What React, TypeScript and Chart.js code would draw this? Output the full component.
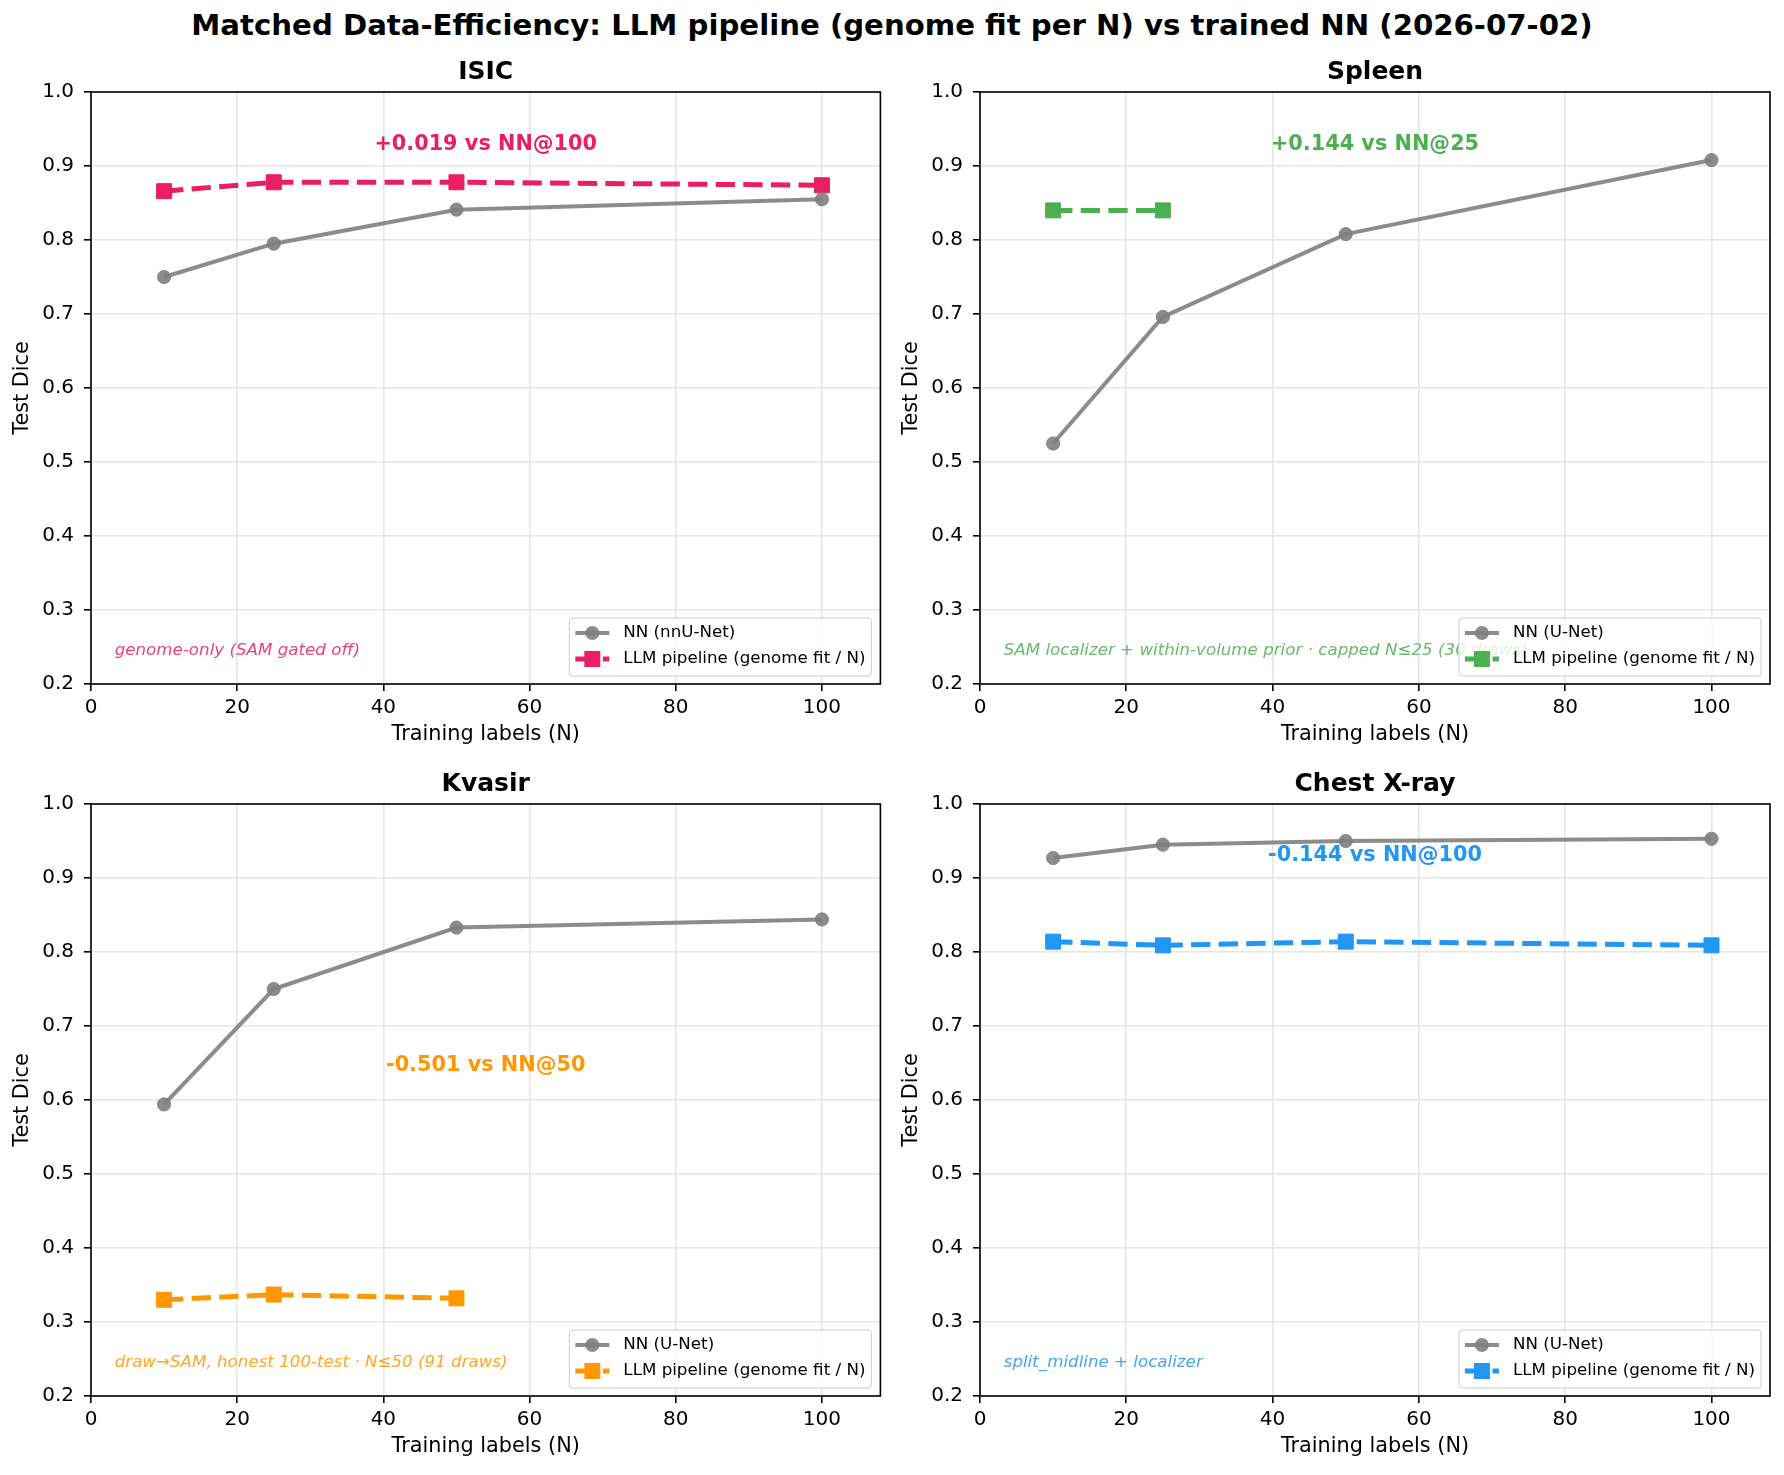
import React, { useEffect, useRef } from 'react';
import Chart from 'chart.js/auto';

// ---------------- data ----------------
const FIG_TITLE = 'Matched Data-Efficiency: LLM pipeline (genome fit per N) vs trained NN (2026-07-02)';
const trainingN = [10, 25, 50, 100];
const xTicks = [0, 20, 40, 60, 80, 100];
const yTicks = [0.2, 0.3, 0.4, 0.5, 0.6, 0.7, 0.8, 0.9, 1.0];

const panelTitles = ['ISIC', 'Spleen', 'Kvasir', 'Chest X-ray'];

const isicNN = [0.750, 0.795, 0.841, 0.855];
const isicLLM = [0.866, 0.878, 0.878, 0.874];
const spleenNN = [0.525, 0.696, 0.808, 0.908];
const spleenLLM = [0.840, 0.840];
const kvasirNN = [0.594, 0.750, 0.833, 0.844];
const kvasirLLM = [0.330, 0.337, 0.332];
const chestNN = [0.927, 0.945, 0.950, 0.953];
const chestLLM = [0.814, 0.809, 0.814, 0.809];

const nnSeries = [isicNN, spleenNN, kvasirNN, chestNN];
const llmSeries = [isicLLM, spleenLLM, kvasirLLM, chestLLM];

const nnLabels = ['NN (nnU-Net)', 'NN (U-Net)', 'NN (U-Net)', 'NN (U-Net)'];
const llmLabel = 'LLM pipeline (genome fit / N)';
const gapTexts = ['+0.019 vs NN@100', '+0.144 vs NN@25', '-0.501 vs NN@50', '-0.144 vs NN@100'];
const gapY = [0.929, 0.929, 0.647, 0.930];
const gapX = 54;
const noteTexts = [
  'genome-only (SAM gated off)',
  'SAM localizer + within-volume prior · capped N≤25 (30 draws)',
  'draw→SAM, honest 100-test · N≤50 (91 draws)',
  'split_midline + localizer',
];
const noteX = 3.24;
const llmColors = ['#E91E63', '#4CAF50', '#FF9800', '#2196F3'];
const nnColor = 'rgba(128,128,128,0.9)';

const FONT = '"DejaVu Sans", "Liberation Sans", sans-serif';

// layout of the four panels (canvas boxes)
const panelBoxes = [
  { left: 0, top: 40, width: 892, height: 720, padRight: 11 },
  { left: 889, top: 40, width: 895, height: 720, padRight: 14 },
  { left: 0, top: 752, width: 892, height: 720, padRight: 11 },
  { left: 889, top: 752, width: 895, height: 720, padRight: 14 },
];

function withAlpha(hex: string, a: number) {
  const r = parseInt(hex.slice(1, 3), 16);
  const g = parseInt(hex.slice(3, 5), 16);
  const b = parseInt(hex.slice(5, 7), 16);
  return `rgba(${r},${g},${b},${a})`;
}

function makeDecor(idx: number) {
  const color = llmColors[idx];
  return {
    id: 'decor' + idx,
    afterDraw(chart: any) {
      const { ctx, chartArea: a, scales } = chart;
      const x = scales.x;
      const y = scales.y;
      ctx.save();
      // footnote
      ctx.font = `italic 16.7px ${FONT}`;
      ctx.fillStyle = withAlpha(color, 0.85);
      ctx.textAlign = 'left';
      ctx.textBaseline = 'middle';
      ctx.fillText(noteTexts[idx], x.getPixelForValue(noteX), a.bottom - 33);
      // gap annotation
      ctx.font = `bold 20.8px ${FONT}`;
      ctx.fillStyle = color;
      ctx.textAlign = 'center';
      ctx.fillText(gapTexts[idx], x.getPixelForValue(gapX), y.getPixelForValue(gapY[idx]));
      // frame
      ctx.strokeStyle = '#000';
      ctx.lineWidth = 1.6;
      ctx.strokeRect(a.left, a.top, a.right - a.left, a.bottom - a.top);
      // legend
      const fs = 16.7;
      ctx.font = `${fs}px ${FONT}`;
      const tw = Math.max(ctx.measureText(nnLabels[idx]).width, ctx.measureText(llmLabel).width);
      const bw = 6.7 + 33.3 + 13.3 + tw + 6.7;
      const bh = 58;
      const bx = a.right - 9 - bw;
      const by = a.bottom - 8 - bh;
      ctx.beginPath();
      if ((ctx as any).roundRect) (ctx as any).roundRect(bx, by, bw, bh, 3.3);
      else ctx.rect(bx, by, bw, bh);
      ctx.fillStyle = 'rgba(255,255,255,0.8)';
      ctx.fill();
      ctx.strokeStyle = '#cccccc';
      ctx.lineWidth = 1;
      ctx.stroke();
      const hx0 = bx + 6;
      const hx1 = hx0 + 34;
      const hm = (hx0 + hx1) / 2;
      const r1 = by + 15;
      const r2 = by + 41;
      // NN handle
      ctx.strokeStyle = nnColor;
      ctx.lineWidth = 4;
      ctx.beginPath();
      ctx.moveTo(hx0, r1);
      ctx.lineTo(hx1, r1);
      ctx.stroke();
      ctx.fillStyle = nnColor;
      ctx.beginPath();
      ctx.arc(hm, r1, 7, 0, Math.PI * 2);
      ctx.fill();
      // LLM handle
      ctx.strokeStyle = color;
      ctx.lineWidth = 5;
      ctx.setLineDash([19.3, 8.3]);
      ctx.beginPath();
      ctx.moveTo(hx0, r2);
      ctx.lineTo(hx1, r2);
      ctx.stroke();
      ctx.setLineDash([]);
      ctx.fillStyle = color;
      ctx.fillRect(hm - 8, r2 - 8, 16, 16);
      ctx.fillStyle = '#000';
      ctx.textAlign = 'left';
      ctx.textBaseline = 'middle';
      ctx.fillText(nnLabels[idx], bx + 54, r1);
      ctx.fillText(llmLabel, bx + 54, r2);
      // panel title
      ctx.font = `bold 25px ${FONT}`;
      ctx.textAlign = 'center';
      ctx.textBaseline = 'alphabetic';
      ctx.fillStyle = '#000';
      ctx.fillText(panelTitles[idx], (a.left + a.right) / 2, a.top - 13);
      // axis titles
      ctx.font = `20.8px ${FONT}`;
      ctx.textBaseline = 'middle';
      ctx.fillText('Training labels (N)', (a.left + a.right) / 2, a.bottom + 51);
      ctx.translate(a.left - 68, (a.top + a.bottom) / 2);
      ctx.rotate(-Math.PI / 2);
      ctx.fillText('Test Dice', 0, 0);
      ctx.restore();
    },
  };
}

function Panel({ idx }: { idx: number }) {
  const ref = useRef<HTMLCanvasElement>(null);
  const box = panelBoxes[idx];
  useEffect(() => {
    const canvas = ref.current;
    if (!canvas) return;
    const nn = nnSeries[idx];
    const llm = llmSeries[idx];
    const color = llmColors[idx];
    const tickFont = { family: FONT, size: 20 };
    const chart = new Chart(canvas, {
      type: 'line',
      data: {
        datasets: [
          {
            label: nnLabels[idx],
            data: nn.map((v, i) => ({ x: trainingN[i], y: v })),
            borderColor: nnColor,
            backgroundColor: nnColor,
            borderWidth: 4,
            pointRadius: 6.6,
            pointBorderWidth: 1,
            pointStyle: 'circle',
            pointBackgroundColor: nnColor,
            pointBorderColor: nnColor,
            tension: 0,
            fill: false,
          },
          {
            label: llmLabel,
            data: llm.map((v, i) => ({ x: trainingN[i], y: v })),
            borderColor: color,
            backgroundColor: color,
            borderWidth: 5,
            borderDash: [19.3, 8.3],
            pointRadius: 10.6,
            pointBorderWidth: 1,
            pointStyle: 'rect',
            pointBackgroundColor: color,
            pointBorderColor: color,
            tension: 0,
            fill: false,
          },
        ],
      },
      options: {
        animation: false,
        responsive: false,
        events: [],
        layout: { padding: { left: 0, top: 52, right: box.padRight, bottom: 0 } },
        plugins: {
          legend: { display: false },
          title: { display: false },
          tooltip: { enabled: false },
        },
        scales: {
          x: {
            type: 'linear',
            min: 0,
            max: 108,
            afterBuildTicks: (s: any) => {
              s.ticks = xTicks.map((v) => ({ value: v }));
            },
            afterFit: (s: any) => {
              s.height = 76;
            },
            grid: {
              color: '#e6e6e6',
              lineWidth: 1.6,
              drawTicks: true,
              tickLength: 7,
              tickWidth: 1.6,
              tickColor: '#000',
            },
            border: { display: false },
            ticks: {
              font: tickFont,
              color: '#000',
              padding: 5,
              maxRotation: 0,
              autoSkip: false,
              callback: (v: any) => String(v),
            },
          },
          y: {
            type: 'linear',
            min: 0.2,
            max: 1.0,
            afterBuildTicks: (s: any) => {
              s.ticks = yTicks.map((v) => ({ value: v }));
            },
            afterFit: (s: any) => {
              s.width = 91;
            },
            grid: {
              color: '#e6e6e6',
              lineWidth: 1.6,
              drawTicks: true,
              tickLength: 7,
              tickWidth: 1.6,
              tickColor: '#000',
            },
            border: { display: false },
            ticks: {
              font: tickFont,
              color: '#000',
              padding: 10,
              autoSkip: false,
              callback: (v: any) => Number(v).toFixed(1),
            },
          },
        },
      },
      plugins: [makeDecor(idx)],
    } as any);
    return () => chart.destroy();
  }, [idx]);
  return (
    <canvas
      ref={ref}
      width={box.width}
      height={box.height}
      style={{ position: 'absolute', left: box.left, top: box.top, width: box.width, height: box.height }}
    />
  );
}

export default function App() {
  return (
    <div style={{ position: 'absolute', left: 0, top: 0, width: 1784, height: 1475, background: '#fff', overflow: 'hidden' }}>
      <div
        style={{
          position: 'absolute',
          left: 0,
          top: 8,
          width: 1784,
          textAlign: 'center',
          fontFamily: FONT,
          fontWeight: 'bold',
          fontSize: 29.2,
          lineHeight: '34px',
          color: '#000',
          whiteSpace: 'nowrap',
        }}
      >
        {FIG_TITLE}
      </div>
      {[0, 1, 2, 3].map((i) => (
        <Panel key={i} idx={i} />
      ))}
    </div>
  );
}
